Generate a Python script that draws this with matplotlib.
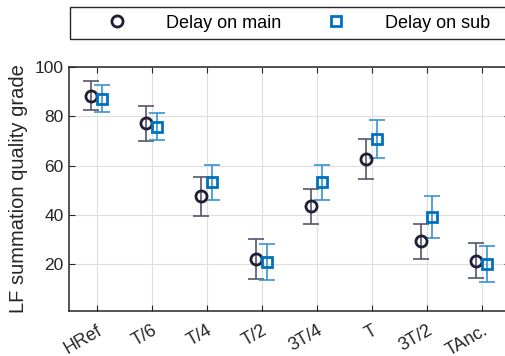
import numpy as np
import matplotlib
matplotlib.use('Agg')
import matplotlib.pyplot as plt
from matplotlib.patches import Rectangle

plt.rcParams['font.family'] = ['Liberation Sans', 'DejaVu Sans']

# conditions along x
labels = ['HRef', 'T/6', 'T/4', 'T/2', '3T/4', 'T', '3T/2', 'TAnc.']

# delay on main (circles): mean, upper and lower whisker
main_mean = [88.3, 77.2, 47.5, 22.1, 43.6, 62.8, 29.3, 21.2]
main_hi = [94.2, 84.3, 55.3, 30.4, 50.6, 70.7, 36.2, 28.5]
main_lo = [82.6, 70.0, 39.5, 13.9, 36.3, 54.7, 22.1, 14.3]

# delay on sub (squares)
sub_mean = [87.2, 75.8, 53.2, 20.8, 53.2, 70.9, 39.3, 20.1]
sub_hi = [92.8, 81.4, 60.4, 28.2, 60.4, 78.6, 47.5, 27.5]
sub_lo = [81.7, 70.4, 46.2, 13.4, 46.2, 63.2, 30.8, 12.7]

x = np.arange(1, len(labels) + 1)
main_mean = np.array(main_mean)
sub_mean = np.array(sub_mean)

W, H = 505, 356
fig = plt.figure(figsize=(W / 100, H / 100), dpi=100)
# axes run past the right edge of the picture, as in the reference
ax = fig.add_axes([69 / W, 1 - 311 / H, 440.5 / W, 244 / H])

main_col = '#1f1f38'
main_err = '#55556a'
sub_col = '#0072bd'
sub_err = '#3a93d0'

ax.errorbar(x - 0.1, main_mean,
            yerr=[main_mean - np.array(main_lo), np.array(main_hi) - main_mean],
            fmt='none', ecolor=main_err, elinewidth=1.2, capsize=5.8, capthick=1.2, zorder=2)
ax.plot(x - 0.1, main_mean, 'o', ms=8, mfc='none', mec=main_col, mew=2,
        label='Delay on main', zorder=3)

ax.errorbar(x + 0.1, sub_mean,
            yerr=[sub_mean - np.array(sub_lo), np.array(sub_hi) - sub_mean],
            fmt='none', ecolor=sub_err, elinewidth=1.2, capsize=5.8, capthick=1.2, zorder=2)
ax.plot(x + 0.1, sub_mean, 's', ms=7, mfc='none', mec=sub_col, mew=2,
        label='Delay on sub', zorder=3)

ax.set_xlim(0.5, 8.5)
ax.set_ylim(1, 100)
ax.set_xticks(x)
ax.set_xticklabels(labels, rotation=30, ha='right', va='top',
                   rotation_mode='anchor', fontsize=13)
ax.set_yticks([20, 40, 60, 80, 100])
ax.tick_params(axis='y', labelsize=12.5, pad=4)
ax.tick_params(axis='x', pad=8)
ax.tick_params(direction='in', top=True, right=True, length=4, colors='#262626')
ax.grid(True, color='#dedede', linewidth=0.8)
ax.set_axisbelow(True)
for s in ax.spines.values():
    s.set_color('#262626')
    s.set_linewidth(1.1)
ax.set_ylabel('LF summation quality grade', fontsize=14.5, color='#262626')
ax.yaxis.set_label_coords(-0.093, 0.5)

# legend box, also cut by the right edge
fig.add_artist(Rectangle((70 / W, 1 - 39 / H), 450 / W, 32 / H, transform=fig.transFigure,
                         fill=False, edgecolor='#262626', linewidth=1.0))
fig.legend(loc='center left', bbox_to_anchor=(99 / W, 1 - 23 / H), ncol=2, fontsize=13,
           frameon=False, handlelength=2, handletextpad=1.7, columnspacing=2.05,
           borderpad=0, borderaxespad=0)

fig.savefig('out.png', dpi=100)
